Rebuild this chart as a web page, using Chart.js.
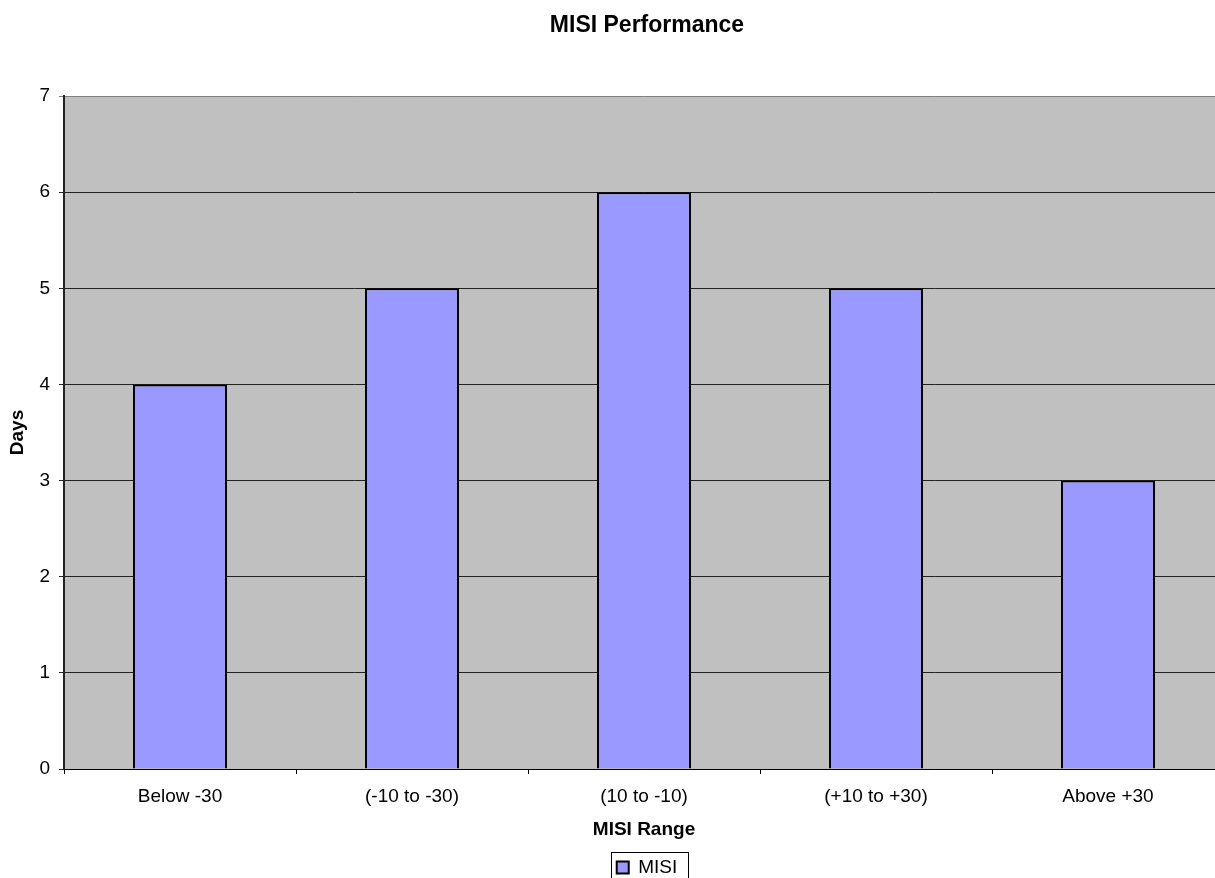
<!DOCTYPE html>
<html>
<head>
<meta charset="utf-8">
<title>MISI Performance</title>
<script src="https://cdn.jsdelivr.net/npm/chart.js@4/dist/chart.umd.min.js"></script>
<style>
  html, body { margin: 0; padding: 0; background: #fff; overflow: hidden; }
  #myChart { display: block; }
</style>
</head>
<body>
<canvas id="myChart" width="1294" height="887"></canvas>
<script>
// data
const categories = ['Below -30', '(-10 to -30)', '(10 to -10)', '(+10 to +30)', 'Above +30'];
const misiDays = [4, 5, 6, 5, 3];
const seriesName = 'MISI';
const yMin = 0;
const yMax = 7;

const fontFamily = '"Liberation Sans", Arial, Helvetica, sans-serif';

// gray plot background
const plotBackground = {
    id: 'plotBackground',
    beforeDraw: (chart) => {
        const {ctx, chartArea} = chart;
        ctx.save();
        ctx.fillStyle = '#c0c0c0';
        ctx.fillRect(chartArea.left, chartArea.top, chartArea.right - chartArea.left, chartArea.bottom - chartArea.top);
        ctx.restore();
    }
};

// thin frame round the legend, like the old spreadsheet charts
const legendFrame = {
    id: 'legendFrame',
    afterDraw: (chart) => {
        const boxes = chart.legend && chart.legend.legendHitBoxes;
        if (!boxes || !boxes.length) return;
        const hb = boxes[0];
        const ctx = chart.ctx;
        ctx.save();
        ctx.strokeStyle = '#000';
        ctx.lineWidth = 1;
        const x = Math.round(hb.left - 6) + 0.5;
        const y = Math.round(hb.top - 6) + 0.5;
        const w = Math.round(hb.width + 16);
        const h = Math.round(hb.height + 12);
        ctx.strokeRect(x, y, w, h);
        ctx.restore();
    }
};

const ctx = document.getElementById('myChart').getContext('2d');
const myChart = new Chart(ctx, {
    type: 'bar',
    data: {
        labels: categories,
        datasets: [{
            label: seriesName,
            data: misiDays,
            backgroundColor: '#9999ff',
            borderColor: '#000000',
            borderWidth: 2,
            borderSkipped: 'bottom',
            barPercentage: 0.405,
            categoryPercentage: 1.0
        }]
    },
    options: {
        responsive: false,
        animation: false,
        devicePixelRatio: 1,
        layout: { padding: 0 },
        scales: {
            x: {
                offset: true,
                grid: {
                    offset: true,
                    drawOnChartArea: false,
                    drawTicks: true,
                    tickLength: 5,
                    color: '#000'
                },
                border: { display: true, color: '#000', width: 1 },
                ticks: {
                    color: '#000',
                    padding: 11.6,
                    maxRotation: 0,
                    font: { family: fontFamily, size: 19 }
                },
                title: {
                    display: true,
                    text: 'MISI Range',
                    color: '#000',
                    padding: { top: 0, bottom: 6.6 },
                    font: { family: fontFamily, size: 19, weight: 'bold' }
                },
                afterFit: (scale) => { scale.height = 79; }
            },
            y: {
                min: yMin,
                max: yMax,
                grid: {
                    color: (c) => (c.tick && c.tick.value === yMax) ? '#808080' : '#222',
                    drawTicks: true,
                    tickLength: 5
                },
                border: { display: true, color: '#222', width: 2 },
                ticks: {
                    stepSize: 1,
                    color: '#000',
                    padding: 9,
                    font: { family: fontFamily, size: 19 }
                },
                title: {
                    display: true,
                    text: 'Days',
                    color: '#000',
                    padding: { top: 6.6, bottom: 0 },
                    font: { family: fontFamily, size: 19, weight: 'bold' }
                },
                afterFit: (scale) => { scale.width = 64; }
            },
            // empty axis on the right, only to leave room so the plot runs off the page
            yRight: {
                position: 'right',
                display: true,
                grid: { display: false, drawTicks: false },
                border: { display: false },
                ticks: { display: false },
                afterFit: (scale) => { scale.width = 70; }
            }
        },
        plugins: {
            title: {
                display: true,
                text: 'MISI Performance',
                color: '#000',
                padding: { top: 12.2, bottom: 56.2 },
                font: { family: fontFamily, size: 23, weight: 'bold' }
            },
            legend: {
                display: true,
                position: 'bottom',
                labels: {
                    color: '#000',
                    boxWidth: 12,
                    boxHeight: 12,
                    padding: 10,
                    font: { family: fontFamily, size: 19 }
                }
            },
            tooltip: { enabled: false }
        }
    },
    plugins: [plotBackground, legendFrame]
});
</script>
</body>
</html>
